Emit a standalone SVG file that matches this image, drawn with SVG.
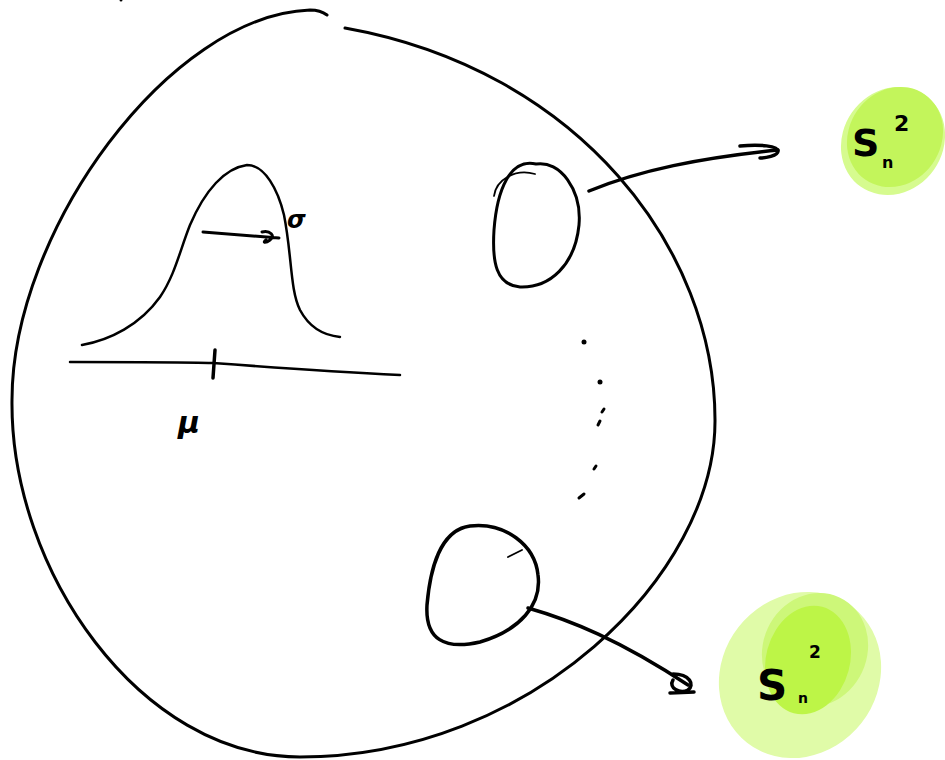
<svg xmlns="http://www.w3.org/2000/svg" width="945" height="760" viewBox="0 0 945 760">
<style>
.ln{fill:none;stroke:#000;stroke-linecap:round;stroke-linejoin:round}
.t{font-family:"DejaVu Sans",sans-serif;font-weight:bold;fill:#000}
</style>
<rect width="945" height="760" fill="#fff"/>
<g id="population">
<path class="ln" stroke-width="3" d="M345,28 C580,70 715,250 715,420 C716,575 530,757 300,757 C140,757 10,570 12,400 C12,230 170,15 310,10 C318,10 323,12 327,15"/>
<circle cx="121" cy="0" r="1.5"/>
</g>
<g id="gaussian">
<path class="ln" stroke-width="2.5" d="M82,345 C110,340 140,325 160,297 C175,275 180,250 190,225 C205,190 225,168 247,165 C265,165 278,190 284,215 C292,255 290,290 300,310 C308,325 320,335 340,337"/>
<path class="ln" stroke-width="2.5" d="M70,362 C120,362 180,362 213,363 C280,368 340,372 400,375"/>
<path class="ln" stroke-width="3.5" d="M215,350 L213,378"/>
<path class="ln" stroke-width="3" d="M203,232 L279,238 M262,232 C270,230 276,236 270,240 C266,243 262,243 266,240"/>
<text class="t" x="287" y="228" font-size="24" font-style="italic">σ</text>
<text class="t" x="178" y="433" font-size="30" font-style="italic">μ</text>
</g>
<g id="sample1">
<path class="ln" stroke-width="3" d="M536,164 C510,158 497,190 494,230 C492,262 496,285 520,287 C550,288 575,265 579,225 C582,190 560,160 536,164 Z"/>
<path class="ln" stroke-width="1.8" d="M494,196 C496,180 515,168 535,174"/>
</g>
<g id="sample2">
<path class="ln" stroke-width="3.5" d="M470,526 C440,530 430,570 427,605 C425,640 445,650 480,642 C520,630 542,605 538,575 C535,545 505,522 470,526 Z"/>
<path class="ln" stroke-width="1.8" d="M508,557 L522,550"/>
</g>
<g id="dots">
<circle cx="584" cy="342" r="2.5"/>
<circle cx="600" cy="382" r="2.5"/>
<path class="ln" stroke-width="3" d="M604,409 L602,412 M600,421 L598,425 M596,466 L594,469 M584,494 L579,498"/>
</g>
<g id="s2top">
<ellipse cx="893" cy="141" rx="50" ry="56" transform="rotate(35 893 141)" fill="#d6fb8f"/>
<ellipse cx="895" cy="137" rx="46" ry="52" transform="rotate(35 895 137)" fill="#c3f55b"/>
<text class="t" x="852" y="156" font-size="38">S</text>
<text class="t" x="882" y="168" font-size="16">n</text>
<text class="t" x="894" y="131" font-size="22">2</text>
</g>
<g id="s2bottom">
<ellipse cx="800" cy="675" rx="78" ry="86" transform="rotate(38 800 675)" fill="#e0fba8"/>
<ellipse cx="815" cy="650" rx="52" ry="58" transform="rotate(25 815 650)" fill="#cdf779"/>
<ellipse cx="808" cy="660" rx="42" ry="55" transform="rotate(15 808 660)" fill="#bdf547"/>
<text class="t" x="757" y="700" font-size="42">S</text>
<text class="t" x="798" y="703" font-size="14">n</text>
<text class="t" x="809" y="658" font-size="17">2</text>
</g>
<g id="connectors">
<path class="ln" stroke-width="3.5" d="M589,191 C640,170 700,158 778,150"/>
<path class="ln" stroke-width="3.5" d="M740,146 C760,144 778,146 778,151 C778,156 765,158 760,158"/>
<path class="ln" stroke-width="3.5" d="M528,608 C570,620 620,640 688,685"/>
<path class="ln" stroke-width="3.5" d="M673,674 C690,674 695,685 688,690 C680,694 668,688 673,680 M670,693 L694,692"/>
</g>
</svg>
